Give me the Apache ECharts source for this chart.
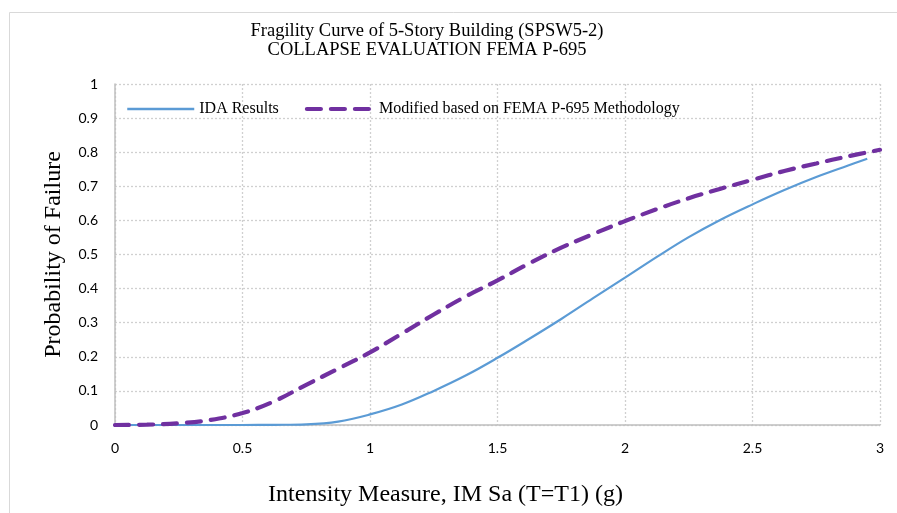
<!DOCTYPE html>
<html><head><meta charset="utf-8">
<script src="https://cdn.jsdelivr.net/npm/echarts@6/dist/echarts.min.js"></script>
<style>html,body{margin:0;padding:0;background:#fff}#c{width:897px;height:513px}</style>
</head><body><div id="c"></div>
<script>
const titleLines = ['Fragility Curve of 5-Story Building (SPSW5-2)', 'COLLAPSE EVALUATION FEMA P-695'];
const xAxisTitle = 'Intensity Measure, IM Sa (T=T1) (g)';
const yAxisTitle = 'Probability of Failure';
const seriesNames = ['IDA Results', 'Modified based on FEMA P-695 Methodology'];
const idaX = [0, 0.25, 0.5, 0.625, 0.75, 0.875, 1, 1.125, 1.25, 1.375, 1.5, 1.625, 1.75, 1.875, 2, 2.125, 2.25, 2.375, 2.5, 2.625, 2.75, 2.875, 2.95];
const idaY = [0, 0, 0, 0.0005, 0.002, 0.01, 0.031, 0.06, 0.1, 0.145, 0.197, 0.253, 0.311, 0.372, 0.432, 0.493, 0.551, 0.602, 0.647, 0.689, 0.727, 0.761, 0.781];
const femaX = [0, 0.125, 0.25, 0.375, 0.5, 0.625, 0.75, 0.875, 1, 1.125, 1.25, 1.375, 1.5, 1.625, 1.75, 1.875, 2, 2.125, 2.25, 2.375, 2.5, 2.625, 2.75, 2.875, 3];
const femaY = [0, 0.001, 0.005, 0.015, 0.035, 0.07, 0.118, 0.165, 0.213, 0.268, 0.324, 0.377, 0.424, 0.474, 0.52, 0.56, 0.598, 0.633, 0.665, 0.693, 0.719, 0.745, 0.767, 0.788, 0.807];

const serif = '"Liberation Serif", "Times New Roman", serif';
const sans = 'Lato, "Open Sans", sans-serif';
const blue = '#5b9bd5', purple = '#7030a0';
const chart = echarts.init(document.getElementById('c'), null, {renderer: 'canvas'});
chart.setOption({
  animation: false,
  backgroundColor: '#fff',
  graphic: [{type: 'rect', shape: {x: 9.5, y: 12.5, width: 1000, height: 1000}, style: {fill: 'none', stroke: '#d9d9d9', lineWidth: 1}, silent: true}],
  title: {
    text: titleLines.join('\n'), left: 422, top: 17, textAlign: 'center',
    textStyle: {fontFamily: serif, fontSize: 18.5, fontWeight: 'normal', color: '#000', lineHeight: 19}
  },
  legend: {
    left: 121, top: 96, itemWidth: 67, itemHeight: 14, itemGap: 26,
    itemStyle: {opacity: 0},
    textStyle: {fontFamily: serif, fontSize: 16, color: '#000'},
    data: [
      {name: seriesNames[0], lineStyle: {color: blue, width: 2.5, type: 'solid'}},
      {name: seriesNames[1], lineStyle: {color: purple, width: 4.2, type: [14, 10], cap: 'round'}}
    ]
  },
  grid: {left: 115, right: 17, top: 84, bottom: 88, containLabel: false},
  xAxis: {
    type: 'value', min: 0, max: 3, interval: 0.5,
    name: xAxisTitle, nameLocation: 'middle', nameGap: 58,
    nameTextStyle: {fontFamily: serif, fontSize: 24, color: '#000', padding: [0, 104, 0, 0]},
    axisLine: {lineStyle: {color: '#bfbfbf', width: 1.5}},
    axisTick: {show: false},
    axisLabel: {fontFamily: sans, fontSize: 14, color: '#000', margin: 16},
    splitLine: {show: true, lineStyle: {color: '#d0d0d0', type: [2, 2], width: 1.3}}
  },
  yAxis: {
    type: 'value', min: 0, max: 1, interval: 0.1,
    name: yAxisTitle, nameLocation: 'middle', nameGap: 49,
    nameTextStyle: {fontFamily: serif, fontSize: 24, color: '#000'},
    axisLine: {show: true, lineStyle: {color: '#bfbfbf', width: 1.5}},
    axisTick: {show: false},
    axisLabel: {fontFamily: sans, fontSize: 14, color: '#000', margin: 17,
      formatter: v => String(Math.round(v * 10) / 10)},
    splitLine: {show: true, lineStyle: {color: '#d0d0d0', type: [2, 2], width: 1.3}}
  },
  series: [
    {name: seriesNames[0], type: 'line', smooth: 0.4, symbol: 'none',
     data: idaX.map((x, i) => [x, idaY[i]]),
     lineStyle: {color: blue, width: 2.2}, itemStyle: {color: blue}, z: 3},
    {name: seriesNames[1], type: 'line', smooth: 0.4, symbol: 'none',
     data: femaX.map((x, i) => [x, femaY[i]]),
     lineStyle: {color: purple, width: 4.2, type: [14, 10], cap: 'round'}, itemStyle: {color: purple}, z: 4}
  ]
});
</script></body></html>
